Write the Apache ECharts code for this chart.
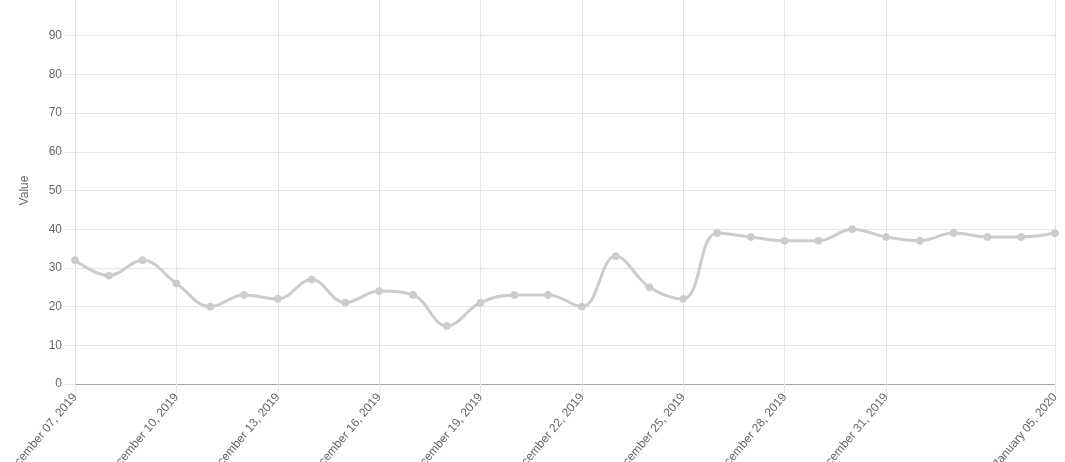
<!DOCTYPE html>
<html>
<head>
<meta charset="utf-8">
<script src="https://cdn.jsdelivr.net/npm/echarts@6/dist/echarts.min.js"></script>
<style>html,body{margin:0;padding:0;background:#fff;}#c{width:1065px;height:462px;}</style>
</head>
<body>
<div id="c"></div>
<script>
var categories = [
  "December 07, 2019","December 08, 2019","December 09, 2019","December 10, 2019","December 11, 2019",
  "December 12, 2019","December 13, 2019","December 14, 2019","December 15, 2019","December 16, 2019",
  "December 17, 2019","December 18, 2019","December 19, 2019","December 20, 2019","December 21, 2019",
  "December 22, 2019","December 23, 2019","December 24, 2019","December 25, 2019","December 26, 2019",
  "December 27, 2019","December 28, 2019","December 29, 2019","December 30, 2019","December 31, 2019",
  "January 01, 2020","January 02, 2020","January 03, 2020","January 04, 2020","January 05, 2020"
];
var values = [32,28,32,26,20,23,22,27,21,24,23,15,21,23,23,20,33,25,22,39,38,37,37,40,38,37,39,38,38,39];
var shownTickIndices = [0,3,6,9,12,15,18,21,24,29];
var yAxisName = "Value";

function showTick(i){ return shownTickIndices.indexOf(i) >= 0; }

var chart = echarts.init(document.getElementById('c'), null, {renderer:'canvas'});
var font = '"Liberation Sans", Arial, Helvetica, sans-serif';
chart.setOption({
  animation: false,
  grid: {left: 75, right: 10, top: -3, bottom: 78, containLabel: false, outerBoundsMode: 'none'},
  xAxis: {
    type: 'category',
    data: categories,
    boundaryGap: false,
    axisLine: {show: true, lineStyle: {color: '#a6a6a6', width: 1}},
    axisTick: {show: true, length: 9, interval: function(i){return showTick(i);}, lineStyle: {color: '#e5e5e5'}},
    axisLabel: {
      interval: function(i){return showTick(i);},
      rotate: 50, margin: 11,
      color: '#666', fontSize: 12, fontFamily: font
    },
    splitLine: {show: true, interval: function(i){return showTick(i);}, lineStyle: {color: '#e5e5e5', width: 1}}
  },
  yAxis: {
    type: 'value',
    min: 0, max: 100, interval: 10,
    name: yAxisName,
    nameLocation: 'middle',
    nameRotate: 90,
    nameGap: 42,
    nameTextStyle: {color: '#666', fontSize: 12, fontFamily: font},
    axisLine: {show: false},
    axisTick: {show: true, length: 10, lineStyle: {color: '#e5e5e5'}},
    axisLabel: {color: '#666', fontSize: 12, fontFamily: font, margin: 13},
    splitLine: {show: true, lineStyle: {color: '#e5e5e5', width: 1}}
  },
  series: [{
    type: 'line',
    data: values,
    smooth: 0.4,
    symbol: 'circle',
    symbolSize: 7,
    lineStyle: {color: '#cccccc', width: 3},
    itemStyle: {color: '#cccccc', borderColor: '#cccccc'},
    clip: false
  }]
});
</script>
</body>
</html>
